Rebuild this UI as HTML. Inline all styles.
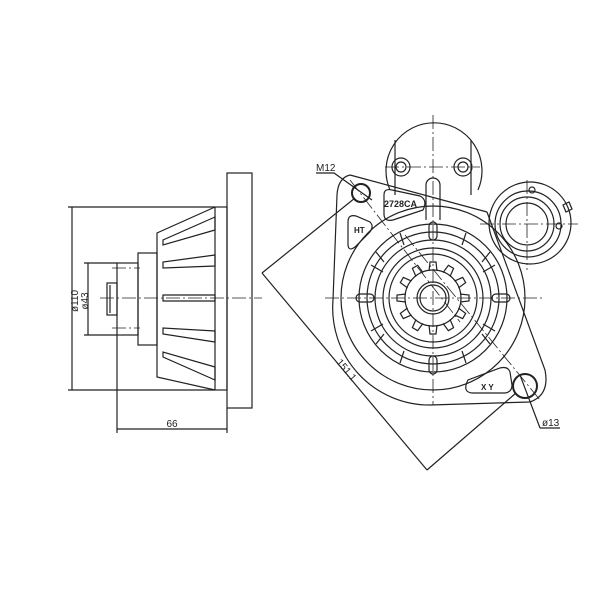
<!DOCTYPE html>
<html><head><style>body{margin:0;background:#fff}svg{display:block}</style></head><body>
<svg width="600" height="600" viewBox="0 0 600 600" xmlns="http://www.w3.org/2000/svg" font-family="Liberation Sans, sans-serif">
<g fill="none" stroke="#222" stroke-width="1.2">
<!-- LEFT VIEW -->
<rect x="227" y="173" width="25" height="235"/>
<rect x="215" y="207" width="12" height="183"/>
<path d="M215,207 L157,233 L157,377 L215,390"/>
<rect x="138" y="253" width="19" height="92"/>
<rect x="117" y="263" width="21" height="72"/>
<rect x="107" y="283" width="10" height="32"/>
<path d="M110,285 V313"/>
<path d="M215,217 L163,240 L163,245 L215,230 Z"/>
<path d="M215,255 L163,262 L163,268 L215,266 Z"/>
<path d="M215,295 L163,295 L163,301 L215,301 Z"/>
<path d="M215,331 L163,328 L163,334 L215,342 Z"/>
<path d="M215,367 L163,352 L163,357 L215,380 Z"/>
<g stroke-dasharray="14,3,2,3" stroke-width="0.8"><path d="M100,298 H262"/><path d="M112,268 H140"/><path d="M112,328 H140"/></g>
<path d="M68,207 H215 M68,390 H215 M72,207 V390 M84,263 H117 M84,335 H117 M88,263 V335"/>
<path d="M117,335 V433 M227,408 V433 M117,429 H227"/>
<!-- top solenoid -->
<path d="M390,190 A48,48 0 1 1 478,190"/>
<circle cx="401" cy="167" r="9"/><circle cx="401" cy="167" r="5"/>
<circle cx="463" cy="167" r="9"/><circle cx="463" cy="167" r="5"/>
<path d="M395,140 V195 M471,140 V195 M426,220 V185 A7,7 0 0 1 440,185 V220"/>
<!-- right terminal -->
<circle cx="530" cy="223" r="41"/><circle cx="528" cy="224" r="33"/><circle cx="527" cy="224" r="27"/><circle cx="527" cy="224" r="21"/>
<circle cx="532" cy="190" r="3"/><circle cx="559" cy="226" r="3"/>
<path d="M563,205 l6,-3 l3,7 l-6,3z"/>
<!-- housing -->
<path d="M350,175 L487,212 M350,175 Q338,178 337,195 L333,300 M487,212 L545,370 Q550,395 530,402 L430,405 M333,300 A97,97 0 0 0 430,405"/>
<circle cx="433" cy="298" r="92"/>
<circle cx="433" cy="298" r="74"/><circle cx="433" cy="298" r="66"/><circle cx="433" cy="298" r="58"/><circle cx="433" cy="298" r="50"/><circle cx="433" cy="298" r="44"/>
<!-- gear -->
<circle cx="433" cy="298" r="28"/>
<g>
<path id="t" d="M429,271 L430,262 L436,262 L437,271"/>
<path d="M429,271 L430,262 L436,262 L437,271" transform="rotate(30 433 298)"/>
<path d="M429,271 L430,262 L436,262 L437,271" transform="rotate(60 433 298)"/>
<path d="M429,271 L430,262 L436,262 L437,271" transform="rotate(90 433 298)"/>
<path d="M429,271 L430,262 L436,262 L437,271" transform="rotate(120 433 298)"/>
<path d="M429,271 L430,262 L436,262 L437,271" transform="rotate(150 433 298)"/>
<path d="M429,271 L430,262 L436,262 L437,271" transform="rotate(180 433 298)"/>
<path d="M429,271 L430,262 L436,262 L437,271" transform="rotate(210 433 298)"/>
<path d="M429,271 L430,262 L436,262 L437,271" transform="rotate(240 433 298)"/>
<path d="M429,271 L430,262 L436,262 L437,271" transform="rotate(270 433 298)"/>
<path d="M429,271 L430,262 L436,262 L437,271" transform="rotate(300 433 298)"/>
<path d="M429,271 L430,262 L436,262 L437,271" transform="rotate(330 433 298)"/>
</g>
<circle cx="433" cy="298" r="16"/><circle cx="433" cy="298" r="13"/>
<!-- radial slots -->
<rect x="429" y="222" width="8" height="18" rx="4"/><rect x="429" y="356" width="8" height="18" rx="4"/>
<rect x="356" y="294" width="18" height="8" rx="4"/><rect x="492" y="294" width="18" height="8" rx="4"/>
<path d="M376,252 l8,10 M371,265 l12,7 M490,252 l-8,10 M495,265 l-12,7 M376,344 l8,-10 M371,331 l12,-7 M490,344 l-8,-10 M495,331 l-12,-7 M400,233 l4,12 M466,233 l-4,12 M400,363 l4,-12 M466,363 l-4,-12"/>
<!-- pockets -->
<path d="M384,195 Q384,188 392,190 L420,196 Q428,200 423,210 L393,220 Q384,222 384,214Z"/>
<path d="M348,222 Q348,214 356,216 L370,222 Q375,227 368,234 L355,247 Q348,252 348,244Z"/>
<path d="M468,380 Q462,392 472,393 L505,393 Q512,392 512,385 L510,372 Q508,366 500,368Z"/>
<circle cx="361" cy="193" r="9" stroke-width="2"/>
<circle cx="525" cy="386" r="12" stroke-width="2"/>
<g stroke-dasharray="14,3,2,3" stroke-width="0.8"><path d="M433,115 V405 M325,298 H545 M385,167 H480 M480,224 H578 M527,180 V270 M405,235 L540,400 M350,180 L460,322"/></g>
<path d="M262,273 L355,198 M427,470 L516,393 M262,273 L427,470"/>
<path d="M316,173 H334 L372,200"/>
<path d="M540,428 H560 M540,428 L520,375"/>
</g>
<g fill="#222" font-size="10">
<text x="63" y="310" transform="rotate(-90 66 298)" text-anchor="middle">ø110</text>
<text x="82" y="298" transform="rotate(-90 85 298)" text-anchor="middle" dy="3">ø43</text>
<text x="172" y="427" text-anchor="middle">66</text>
<text x="316" y="171">M12</text>
<text x="542" y="426">ø13</text>
<text x="344" y="372" transform="rotate(50 344 372)" text-anchor="middle">151.1</text>
<text x="384" y="207" font-weight="bold" font-size="9">2728CA</text>
<text x="354" y="233" font-weight="bold" font-size="8">HT</text>
<text x="481" y="390" font-weight="bold" font-size="8">X Y</text>
</g>
</svg>
</body></html>
